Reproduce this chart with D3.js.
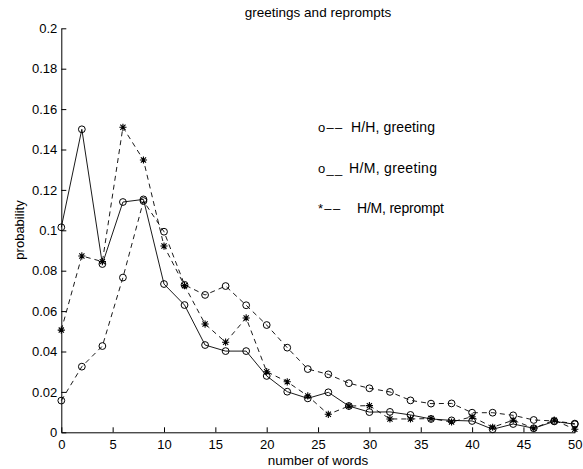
<!DOCTYPE html>
<html>
<head>
<meta charset="utf-8">
<title>greetings and reprompts</title>
<script src="https://d3js.org/d3.v7.min.js"></script>
<style>
  body { margin: 0; background: #fff; }
  svg text { font-family: "Liberation Sans", Arial, Helvetica, sans-serif; fill: #000; }
</style>
</head>
<body>
<svg id="chart"></svg>
<script>
// values
var words = [0, 2, 4, 6, 8, 10, 12, 14, 16, 18, 20, 22, 24, 26, 28, 30, 32, 34, 36, 38, 40, 42, 44, 46, 48, 50];
var hhGreeting = [0.0157, 0.0325, 0.0427, 0.0766, 0.1145, 0.0993, 0.0730, 0.0680, 0.0724, 0.0629, 0.0531, 0.0419, 0.0313,
                  0.0287, 0.0243, 0.0218, 0.0200, 0.0158, 0.0142, 0.0143, 0.0097, 0.0097, 0.0084, 0.0061, 0.0056, 0.0043];
var hmGreeting = [0.1015, 0.1500, 0.0833, 0.1140, 0.1153, 0.0734, 0.0630, 0.0432, 0.0402, 0.0402, 0.0279, 0.0201, 0.0168,
                  0.0198, 0.0130, 0.0100, 0.0101, 0.0086, 0.0066, 0.0059, 0.0056, 0.0015, 0.0041, 0.0020, 0.0054, 0.0040];
var hmReprompt = [0.0506, 0.0873, 0.0845, 0.1510, 0.1348, 0.0922, 0.0726, 0.0536, 0.0446, 0.0566, 0.0300, 0.0250, 0.0180,
                  0.0089, 0.0130, 0.0132, 0.0066, 0.0066, 0.0068, 0.0051, 0.0077, 0.0025, 0.0060, 0.0020, 0.0060, 0.0015];
var xTicks = [0, 5, 10, 15, 20, 25, 30, 35, 40, 45, 50];
var yTicks = [0, 0.02, 0.04, 0.06, 0.08, 0.1, 0.12, 0.14, 0.16, 0.18, 0.2];
var legendMarks = ["o\u2013\u2013", "o__", "*\u2013\u2013"];
var legendNames = ["H/H, greeting", "H/M, greeting", "H/M, reprompt"];

var width = 583, height = 469;
var svg = d3.select("#chart").attr("width", width).attr("height", height);

var x = d3.scaleLinear().domain([0, 50]).range([61.3, 574.8]);
var y = d3.scaleLinear().domain([0, 0.2]).range([432.3, 28.3]);

var series = [
  { vals: hhGreeting, dash: "5,4", mark: "o" },
  { vals: hmGreeting, dash: null, mark: "o" },
  { vals: hmReprompt, dash: "5,4", mark: "*" }
];

// axes (ticks pointing inward)
svg.append("g").attr("transform", "translate(0," + y(0) + ")")
  .call(d3.axisBottom(x).tickValues(xTicks).tickSizeInner(-5).tickSizeOuter(0).tickPadding(7)
    .tickFormat(d3.format("d")));
svg.append("g").attr("transform", "translate(" + x(0) + ",0)")
  .call(d3.axisLeft(y).tickValues(yTicks).tickSizeInner(-5).tickSizeOuter(0).tickPadding(4)
    .tickFormat(function(d) { return d === 0 ? "0" : String(+d.toFixed(2)); }));
svg.selectAll(".tick text").attr("font-size", 13).style("font-family", "'Liberation Sans', Arial, sans-serif");
svg.selectAll(".domain, .tick line").attr("stroke", "#000").attr("stroke-width", 1);

var line = d3.line()
  .x(function(d, i) { return x(words[i]); })
  .y(function(d) { return y(d); });

series.forEach(function(s) {
  svg.append("path")
    .attr("d", line(s.vals))
    .attr("fill", "none")
    .attr("stroke", "#000")
    .attr("stroke-width", 0.9)
    .attr("stroke-dasharray", s.dash);

  var g = svg.append("g");
  s.vals.forEach(function(v, i) {
    var cx = x(words[i]), cy = y(v);
    if (s.mark === "o") {
      g.append("circle").attr("cx", cx).attr("cy", cy).attr("r", 3.4)
        .attr("fill", "none").attr("stroke", "#000").attr("stroke-width", 1);
    } else {
      var r = 3.6, q = r * 0.72;
      g.append("path")
        .attr("d", "M" + (cx - r) + "," + cy + "H" + (cx + r) +
                   "M" + cx + "," + (cy - r) + "V" + (cy + r) +
                   "M" + (cx - q) + "," + (cy - q) + "L" + (cx + q) + "," + (cy + q) +
                   "M" + (cx - q) + "," + (cy + q) + "L" + (cx + q) + "," + (cy - q))
        .attr("stroke", "#000").attr("stroke-width", 1.1);
    }
  });
});

// title and axis labels
svg.append("text").attr("x", 318).attr("y", 17).attr("text-anchor", "middle")
  .attr("font-size", 13.5).text("greetings and reprompts");
svg.append("text").attr("x", 318).attr("y", 465).attr("text-anchor", "middle")
  .attr("font-size", 13.5).text("number of words");
svg.append("text").attr("transform", "translate(24,230) rotate(-90)").attr("text-anchor", "middle")
  .attr("font-size", 13).text("probability");

// legend drawn as text, like the original
var legY = [132, 173, 213];
var legNameX = [351, 349, 357];
var legNameW = [84, 88, 87];
legendMarks.forEach(function(m, i) {
  svg.append("text").attr("x", 318).attr("y", legY[i]).attr("font-size", 13)
    .attr("letter-spacing", 1.3).text(m);
  svg.append("text").attr("x", legNameX[i]).attr("y", legY[i]).attr("font-size", 14)
    .attr("textLength", legNameW[i]).attr("lengthAdjust", "spacing").text(legendNames[i]);
});
</script>
</body>
</html>
